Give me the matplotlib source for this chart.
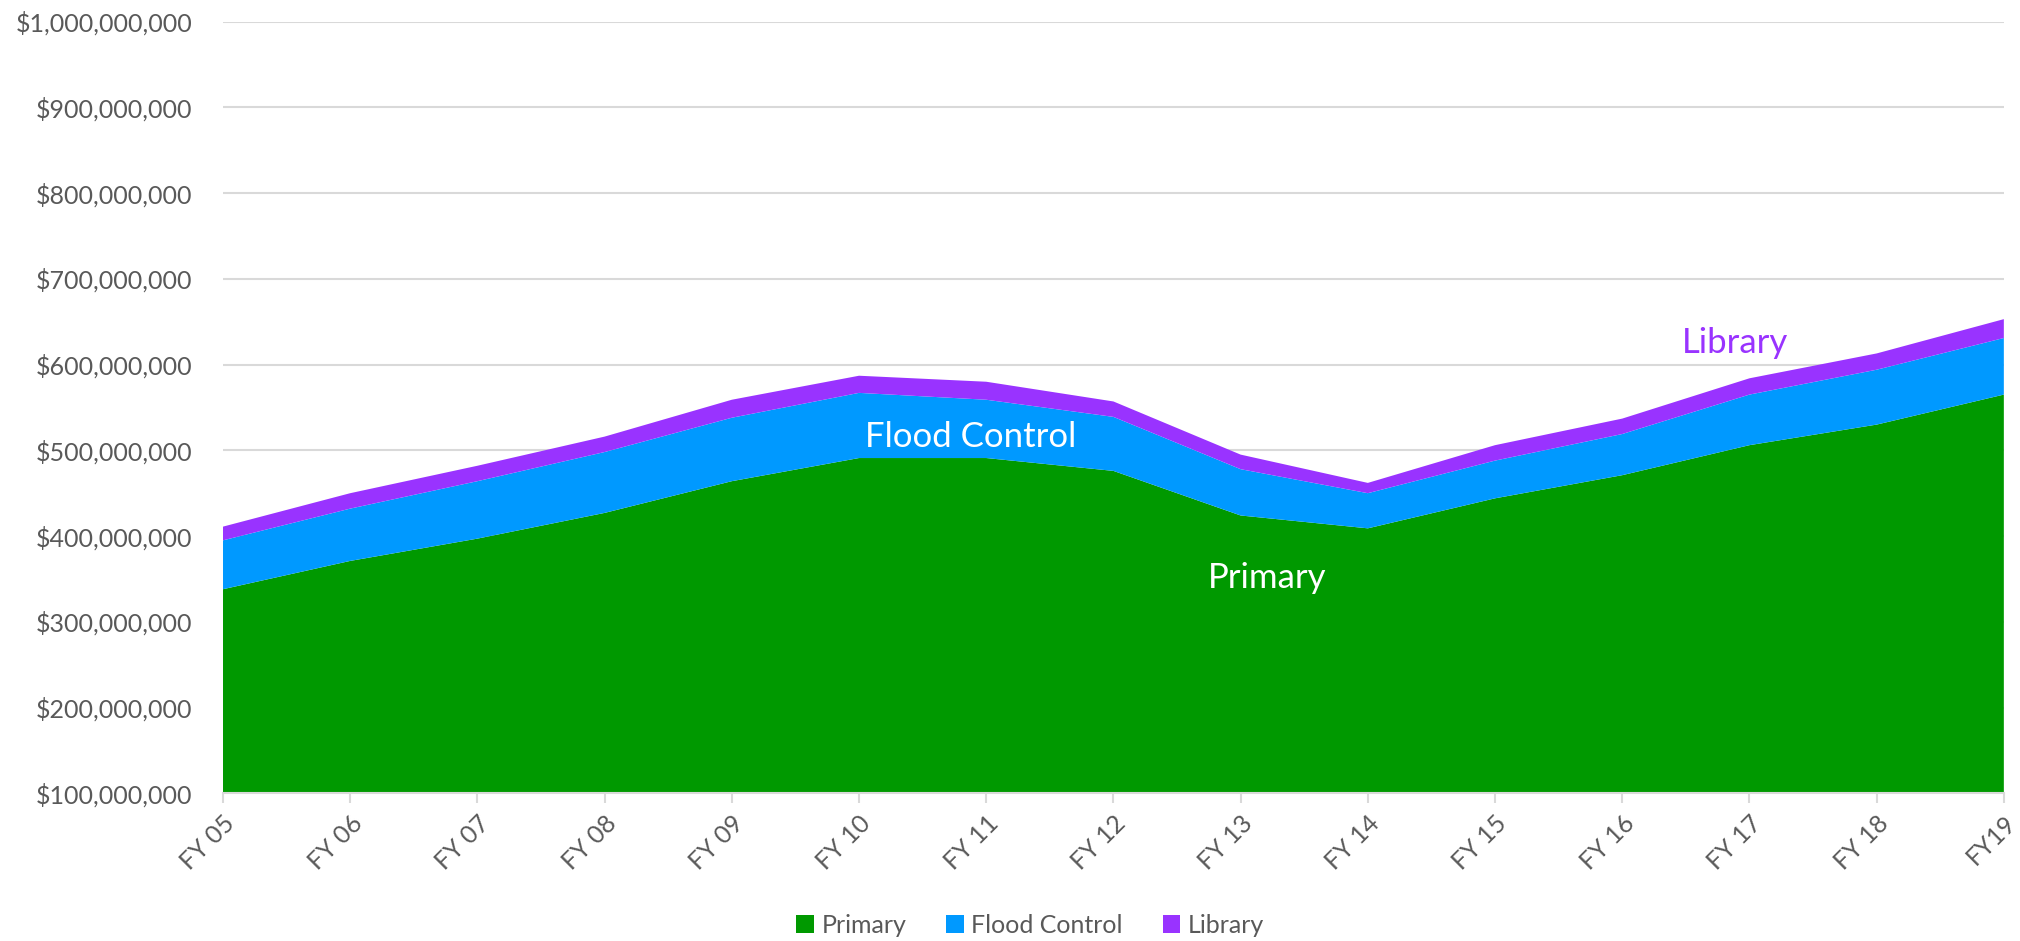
#!/usr/bin/env python3

import matplotlib
import matplotlib.pyplot as plt
import numpy as np
from matplotlib.patches import Patch
from matplotlib.ticker import FuncFormatter

matplotlib.use("Agg")
plt.rcParams['font.family'] = ['Lato', 'DejaVu Sans']

# lata budżetowe
lata = ['FY 05', 'FY 06', 'FY 07', 'FY 08', 'FY 09', 'FY 10', 'FY 11', 'FY 12',
        'FY 13', 'FY 14', 'FY 15', 'FY 16', 'FY 17', 'FY 18', 'FY19']

# wartości w milionach dolarów
primary = [338, 371, 397, 427, 464, 491, 491, 476, 424, 409, 444, 471, 506, 530, 565]
flood_control = [57, 61, 67, 71, 74, 76, 68, 63, 54, 41, 44, 48, 59, 64, 66]
library = [16, 18, 18, 18, 21, 20, 21, 18, 17, 12, 18, 18, 19, 19, 22]

nazwy = ['Primary', 'Flood Control', 'Library']
kolory = ['#009900', '#0099FF', '#9933FF']
SZARY = '#595959'
SIATKA = '#D9D9D9'


if __name__ == "__main__":
    x = np.arange(len(lata))
    y = np.vstack([primary, flood_control, library]) * 1e6

    fig = plt.figure(figsize=(20.2, 9.41), dpi=100)
    ax = fig.add_axes([0.1104, 0.157, 0.8816, 0.820])

    ax.stackplot(x, y, colors=kolory, linewidth=0, zorder=2)

    ax.set_xlim(0, len(lata) - 1)
    ax.set_ylim(100e6, 1e9)
    ax.set_yticks(np.arange(100e6, 1e9 + 1, 100e6))
    ax.yaxis.set_major_formatter(FuncFormatter(lambda v, p: '${:,.0f}'.format(v)))
    ax.grid(axis='y', color=SIATKA, linewidth=1.5, zorder=0)
    ax.set_axisbelow(True)

    ax.set_xticks(x)
    ax.set_xticklabels(lata, rotation=45, ha='right', rotation_mode='anchor')

    for s in ['left', 'right', 'top']:
        ax.spines[s].set_visible(False)
    ax.spines['bottom'].set_color(SIATKA)
    ax.spines['bottom'].set_linewidth(1.5)
    ax.spines['bottom'].set_zorder(3)

    ax.tick_params(axis='y', length=0, pad=22, labelsize=18, labelcolor=SZARY)
    ax.tick_params(axis='x', length=7, width=1.5, color=SIATKA, pad=6,
                   labelsize=18, labelcolor=SZARY)

    # etykiety serii na wykresie
    ax.text(5.88, 516e6, 'Flood Control', color='white', fontsize=25,
            ha='center', va='center', zorder=4)
    ax.text(8.21, 351e6, 'Primary', color='white', fontsize=25,
            ha='center', va='center', zorder=4)
    ax.text(11.89, 625e6, 'Library', color=kolory[2], fontsize=25,
            ha='center', va='center', zorder=4)

    uchwyty = [Patch(facecolor=k, edgecolor='none') for k in kolory]
    fig.legend(uchwyty, nazwy, loc='center', bbox_to_anchor=(0.51, 0.017),
               ncol=3, frameon=False, fontsize=18, labelcolor=SZARY,
               handlelength=0.7, handleheight=0.7, handletextpad=0.3,
               columnspacing=1.6)

    plt.savefig('out.png', dpi=100)
